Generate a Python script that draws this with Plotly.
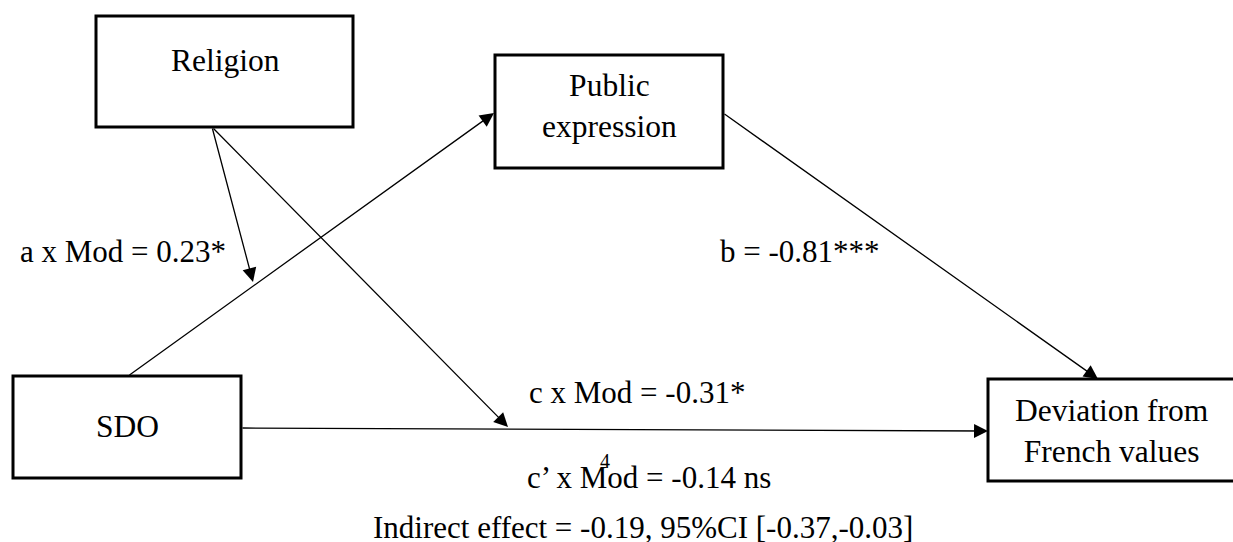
import plotly.graph_objects as go

# ---- content (text / values) ----
node_labels = ["Religion", "Public<br>expression", "SDO", "Deviation from<br>French values"]
path_labels = ["a x Mod = 0.23*", "b = -0.81***", "c x Mod = -0.31*", "c\u2019 x Mod = -0.14 ns"]
indirect_label = "Indirect effect = -0.19, 95%CI [-0.37,-0.03]"
page_number = "4"

# ---- layout geometry (pixel-space axes) ----
W, H = 1233, 542
boxes = {  # x0, y0, x1, y1
    "Religion": (96, 16, 353, 127),
    "Public": (495, 55, 723, 168),
    "SDO": (13, 376, 241, 478),
    "Deviation": (988, 379, 1236, 481),
}
box_text_pos = [(225, 60.5), (609, 105.5), (127, 426.5), (1112, 430.5)]
path_label_pos = [(123, 251.5), (800, 251.5), (636.5, 392.5), (649, 477.5)]
arrows = [  # (tail_x, tail_y, tip_x, tip_y)
    (128, 376, 494, 113),   # SDO -> Public expression
    (723, 113, 1098, 379),  # Public expression -> Deviation
    (241, 428, 988, 431),   # SDO -> Deviation
    (212, 127, 253, 282),   # Religion -> a path
    (212, 127, 508, 427),   # Religion -> c path
]

FONT = "Liberation Serif, Times New Roman, serif"

fig = go.Figure()
fig.add_trace(go.Scatter(x=[0, W], y=[0, H], mode="markers",
                         marker=dict(opacity=0), hoverinfo="skip", showlegend=False))

for (x0, y0, x1, y1) in boxes.values():
    fig.add_shape(type="rect", xref="x", yref="y", x0=x0, y0=y0, x1=x1, y1=y1,
                  line=dict(color="black", width=3), fillcolor="rgba(0,0,0,0)")

for (tx, ty, hx, hy) in arrows:
    fig.add_annotation(x=hx, y=hy, ax=tx, ay=ty, xref="x", yref="y", axref="x", ayref="y",
                       text="", showarrow=True, arrowhead=2, arrowsize=2.15, arrowwidth=1.3,
                       arrowcolor="black", standoff=0)

for lab, (x, y) in zip(node_labels, box_text_pos):
    fig.add_annotation(x=x, y=y, xref="x", yref="y", text=lab, showarrow=False,
                       xanchor="center", yanchor="middle",
                       font=dict(family=FONT, size=31.5, color="black"))

for lab, (x, y) in zip(path_labels, path_label_pos):
    fig.add_annotation(x=x, y=y, xref="x", yref="y", text=lab, showarrow=False,
                       xanchor="center", yanchor="middle",
                       font=dict(family=FONT, size=31, color="black"))

fig.add_annotation(x=643, y=527.5, xref="x", yref="y", text=indirect_label, showarrow=False,
                   xanchor="center", yanchor="middle", font=dict(family=FONT, size=31, color="black"))
fig.add_annotation(x=605, y=461, xref="x", yref="y", text=page_number, showarrow=False,
                   xanchor="center", yanchor="middle", font=dict(family=FONT, size=20, color="black"))

fig.update_xaxes(range=[0, W], visible=False, fixedrange=True)
fig.update_yaxes(range=[H, 0], visible=False, fixedrange=True)
fig.update_layout(width=W, height=H, margin=dict(l=0, r=0, t=0, b=0),
                  paper_bgcolor="white", plot_bgcolor="white", showlegend=False)

fig.write_html("out.html", config={"displayModeBar": False},
               post_script="document.body.style.margin='0';document.body.style.overflow='hidden';")
